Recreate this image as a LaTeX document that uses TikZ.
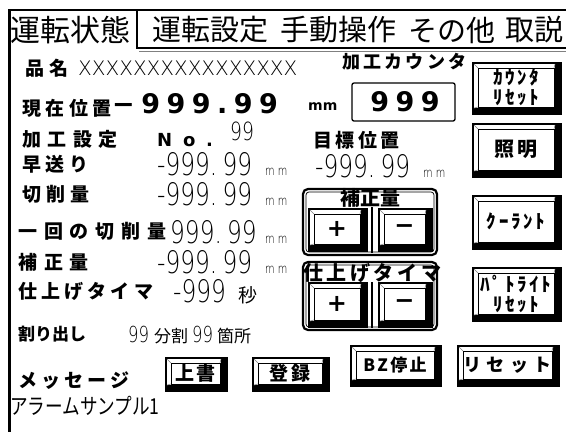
\documentclass[tikz,border=0pt]{standalone}
\usepackage{fontspec}
\setmainfont{Noto Sans CJK JP}
\newfontfamily\cjk{Noto Sans CJK JP}
\newfontfamily\cjknar[FakeStretch=0.8]{Noto Sans CJK JP}
\newfontfamily\lblf[LetterSpace=30]{Noto Sans CJK JP}
\newfontfamily\lblg[LetterSpace=18]{Noto Sans CJK JP}
\newfontfamily\btnf[LetterSpace=14]{Noto Sans CJK JP}
\newfontfamily\thinf[FakeStretch=0.75]{DejaVu Sans ExtraLight}
\newfontfamily\thinw{DejaVu Sans ExtraLight}
\newfontfamily\dvb[LetterSpace=24]{DejaVu Sans}
\newfontfamily\dvbno[LetterSpace=60]{DejaVu Sans}
\newfontfamily\dvplain{DejaVu Sans}
\newcommand\fsz[1]{\fontsize{#1}{#1}\selectfont}
\newcommand\lsp[1]{\addfontfeature{LetterSpace=#1}}
\tikzset{
  lbl/.style={anchor=west, inner sep=0pt, font=\cjk\bfseries\fsz{19}},
  hdr/.style={anchor=west, inner sep=0pt, font=\cjk\fsz{29}},
  thinnum/.style={anchor=base west, inner sep=0pt, font=\thinf\fsz{31}},
  unit/.style={anchor=base west, inner sep=0pt, font=\thinf\fsz{13}},
  btnlbl/.style={inner sep=0pt, align=center, font=\btnf\bfseries\fontsize{19}{19}\selectfont},
  grp/.style={line width=2.2pt, rounded corners=5pt},
  grpin/.style={line width=0.7pt, rounded corners=3pt},
}
\newcommand\uibtn[6]{%
  \fill[black] (#2,#3) rectangle (#4,#5);
  \fill[white] (#2+2,#3+2) rectangle (#4-7,#5-7);
  \draw[line width=0.9pt] (#2+6,#3+6) rectangle (#4-8,#5-8);
  \draw[line width=0.6pt, gray] (#2+2,#3+2) -- (#2+6,#3+6) (#4-7,#3+2) -- (#4-8,#3+6) (#2+2,#5-7) -- (#2+6,#5-8);
  \node[btnlbl] (#1) at ({(#2+#4)/2-1},{(#3+#5)/2-1}) {#6};
}
\begin{document}
\begin{tikzpicture}[x=1pt,y=-1pt]
\useasboundingbox (0,0) rectangle (566,432);
% frame
\draw[line width=2.5pt] (8,10) -- (566,10);
\draw[line width=3pt] (9,10) -- (9,432);
\draw[line width=1.5pt] (137,10) -- (137,49);
\draw[line width=1.5pt] (137,48) -- (566,48);
\draw[line width=0.8pt, gray] (139,51) -- (566,51);
% header
\node[hdr, font=\cjk\fsz{30}] (tab1) at (10,30) {運転状態};
\node[hdr] (tab2) at (152,30) {運転設定};
\node[hdr] (tab3) at (280,30) {手動操作};
\node[hdr] (tab4) at (408,30) {その他};
\node[hdr] (tab5) at (505,30) {取説};
% left labels
\node[lbl] (hinmei) at (25,68) {\lsp{30}品名};
\node[anchor=base west, inner sep=0pt, font=\thinw\fsz{20}] (xx) at (78,75) {XXXXXXXXXXXXXXXX};
\node[lbl] (genzai) at (22,108) {\lsp{24}現在位置};
\node[anchor=base west, inner sep=0pt, font=\dvb\bfseries\fsz{27}] (gval) at (112,113) {−999.99};
\node[anchor=base west, inner sep=0pt, font=\dvplain\bfseries\fsz{14}] (gunit) at (308,110) {mm};
\node[lbl] (kakou) at (22,139) {\lsp{34}加工設定};
\node[anchor=base west, inner sep=0pt, font=\dvbno\bfseries\fsz{18}] (no) at (157,146) {No.};
\node[anchor=base west, inner sep=0pt, font=\thinf\fsz{25}] (noval) at (230,140) {99};
\node[lbl] (haya) at (22,164) {\lsp{24}早送り};
\node[thinnum] (hayav) at (157,175) {-999.\,99};
\node[unit] (hayau) at (265,175) {m m};
\node[lbl] (sess) at (22,194) {\lsp{28}切削量};
\node[thinnum] (sessv) at (157,205) {-999.\,99};
\node[unit] (sessu) at (265,205) {m m};
\node[lbl] (ikkai) at (18,231) {\lsp{36}一回の切削量};
\node[thinnum] (ikkaiv) at (170,243) {999.\,99};
\node[unit] (ikkaiu) at (265,243) {m m};
\node[lbl] (hosei) at (18,262) {\lsp{36}補正量};
\node[thinnum] (hoseiv) at (157,273) {-999.\,99};
\node[unit] (hoseiu) at (265,273) {m m};
\node[lbl] (shiage) at (18,291) {\lsp{22}仕上げタイマ};
\node[thinnum] (shiagev) at (173,302) {-999};
\node[anchor=base west, inner sep=0pt, font=\cjk\fsz{19}] (byo) at (238,302) {秒};
\node[lbl, font=\cjk\bfseries\fsz{17}] (wari) at (18,334) {割り出し};
\node[anchor=base west, inner sep=0pt, font=\thinf\fsz{22}] (wv1) at (128,342) {99};
\node[anchor=base west, inner sep=0pt, font=\cjk\fsz{17}] (bunkatsu) at (154,342) {分割};
\node[anchor=base west, inner sep=0pt, font=\thinf\fsz{22}] (wv2) at (192,342) {99};
\node[anchor=base west, inner sep=0pt, font=\cjk\fsz{17}] (kasho) at (217,342) {箇所};
\node[lbl] (msg) at (18,381) {\lsp{22}メッセージ};
\node[anchor=west, inner sep=0pt, font=\cjknar\fsz{22}] (alarm) at (10,406) {アラームサンプル1};
% counter
\node[anchor=west, inner sep=0pt, font=\lblg\bfseries\fsz{18}] (cntlbl) at (342,62) {加工カウンタ};
\draw[line width=1.3pt, rounded corners=2pt] (352,83) rectangle (455,121);
\node[inner sep=0pt, font=\dvb\bfseries\fsz{27}] (cntval) at (405,102) {999};
% target
\node[anchor=west, inner sep=0pt, font=\lblg\bfseries\fsz{19}] (mokuhyo) at (313,140) {目標位置};
\node[thinnum] (mokuv) at (315,177) {-999.\,99};
\node[unit] (mokuu) at (423,177) {m m};
% groups
\draw[grp] (303,189) rectangle (437,255);
\draw[grpin] (306,192) rectangle (434,252);
\draw[line width=2pt] (372,207) -- (372,253);
\node[inner sep=0pt, font=\cjk\bfseries\fsz{20}] (hglbl) at (370,198) {補正量};
\uibtn{hplus}{308}{208}{368}{252}{\dvplain\bfseries\fsz{24}+}
\uibtn{hminus}{378}{208}{433}{252}{\dvplain\fsz{24}−}
\draw[grp] (303,262) rectangle (437,330);
\draw[grpin] (306,265) rectangle (434,327);
\draw[line width=2pt] (372,282) -- (372,328);
\node[anchor=west, inner sep=0pt, font=\lblg\bfseries\fsz{20}] (sglbl) at (303,273) {仕上げタイマ};
\uibtn{splus}{308}{282}{368}{328}{\dvplain\bfseries\fsz{24}+}
\uibtn{sminus}{378}{282}{433}{328}{\dvplain\fsz{24}−}
% right buttons
\uibtn{bcnt}{472}{62}{562}{115}{ｶｳﾝﾀ\\[1pt]ﾘｾｯﾄ}
\uibtn{blight}{472}{123}{562}{178}{\fsz{20}照明}
\uibtn{bcool}{472}{195}{562}{250}{ｸｰﾗﾝﾄ}
\uibtn{bpat}{472}{267}{562}{322}{ﾊﾟﾄﾗｲﾄ\\[1pt]ﾘｾｯﾄ}
\uibtn{bbz}{350}{345}{442}{387}{\fsz{17}BZ停止}
\uibtn{brst}{457}{345}{560}{387}{\lblf\bfseries\fsz{18}リセット}
\uibtn{bup}{165}{357}{228}{392}{\fsz{19}上書}
\uibtn{breg}{252}{357}{330}{392}{\fsz{19}登録}
\end{tikzpicture}
\end{document}
